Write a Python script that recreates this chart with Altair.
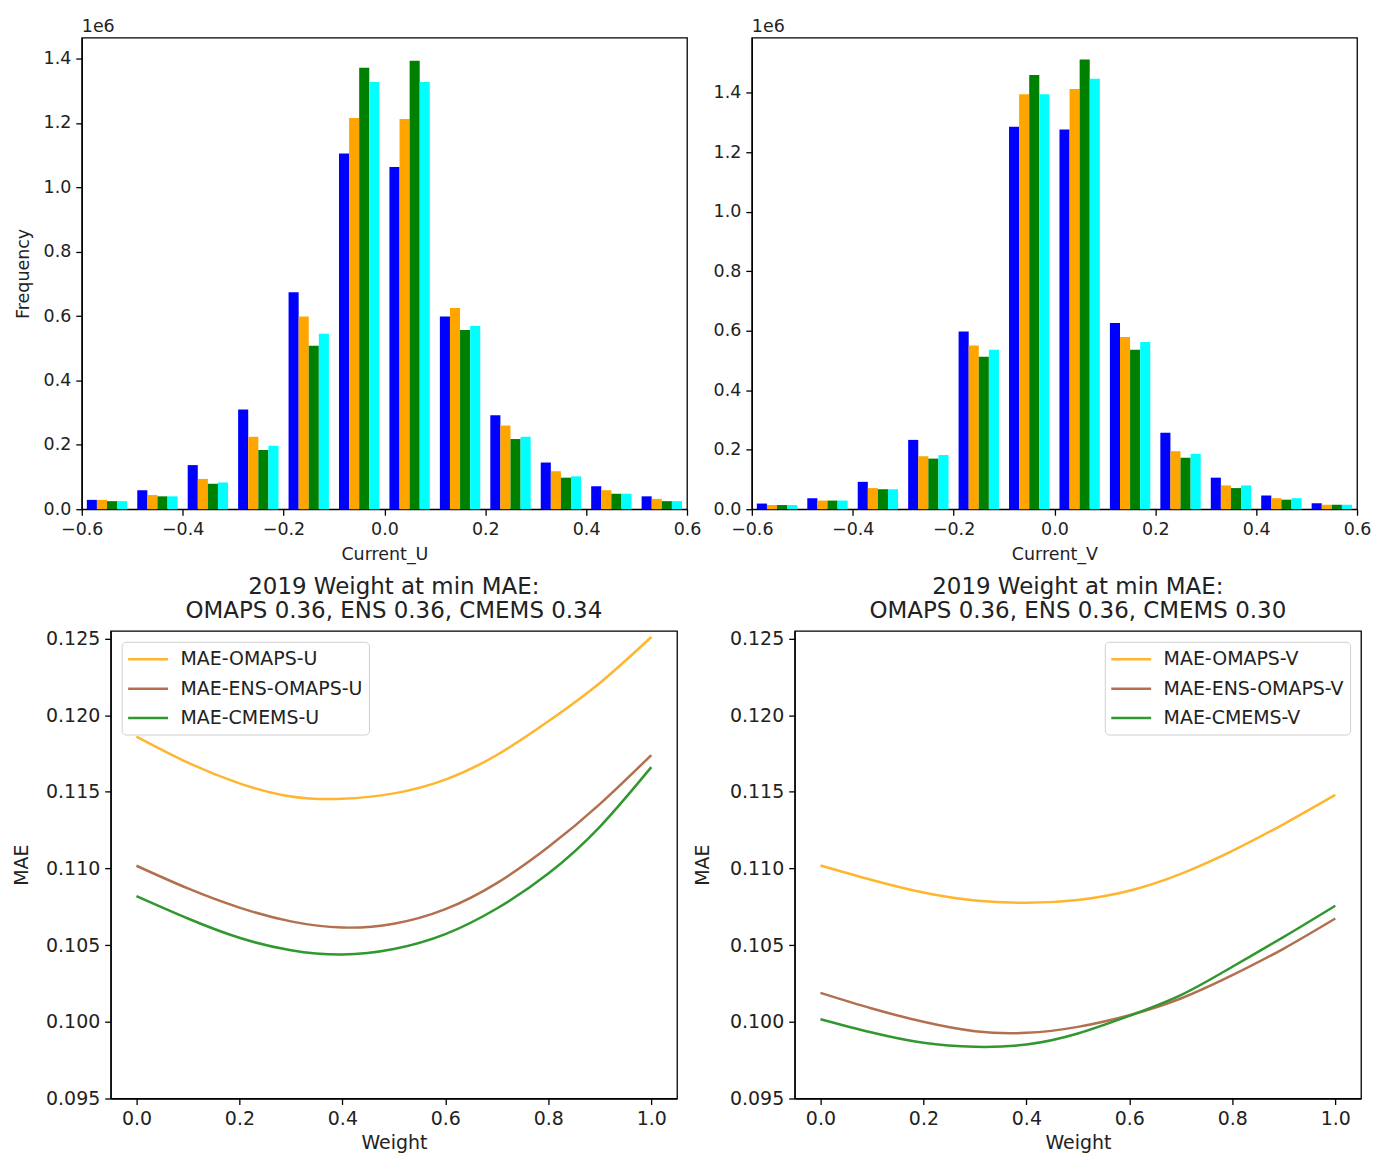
import altair as alt
import pandas as pd

FONT = "DejaVu Sans"

# ---------------- histogram data (counts per bin) ----------------
bin_lefts = [-0.6, -0.5, -0.4, -0.3, -0.2, -0.1, 0.0, 0.1, 0.2, 0.3, 0.4, 0.5]
hist_series = ["OBS", "OMAPS", "CMEMS", "ENS"]
hist_colors = ["#0000ff", "#ffa500", "#008000", "#00ffff"]

u_obs = [29000, 59000, 137000, 310000, 674000, 1105000, 1063000, 599000, 292000, 145000, 71000, 40000]
u_omaps = [29000, 44000, 94000, 225000, 599000, 1215000, 1212000, 625000, 260000, 118000, 59000, 32000]
u_cmems = [25000, 40000, 79000, 184000, 508000, 1371000, 1393000, 557000, 218000, 98000, 48000, 25000]
u_ens = [25000, 40000, 83000, 197000, 545000, 1327000, 1327000, 569000, 225000, 102000, 48000, 25000]

v_obs = [19000, 37000, 92000, 233000, 597000, 1285000, 1276000, 626000, 257000, 106000, 46000, 20000]
v_omaps = [14000, 29000, 71000, 178000, 550000, 1395000, 1412000, 579000, 195000, 80000, 37000, 15000]
v_cmems = [14000, 29000, 67000, 170000, 512000, 1459000, 1511000, 536000, 173000, 71000, 32000, 15000]
v_ens = [14000, 29000, 67000, 182000, 536000, 1395000, 1447000, 562000, 186000, 80000, 37000, 15000]

x_ticks_hist = [-0.6, -0.4, -0.2, 0.0, 0.2, 0.4, 0.6]
y_ticks_hist = [0, 200000, 400000, 600000, 800000, 1000000, 1200000, 1400000]

# ---------------- MAE vs weight data ----------------
weights = [0.0, 0.1, 0.2, 0.3, 0.4, 0.5, 0.6, 0.7, 0.8, 0.9, 1.0]
mae_omaps_u = [0.1186, 0.1169, 0.11555, 0.1147, 0.11455, 0.1149, 0.1158, 0.1174, 0.1196, 0.1221, 0.1251]
mae_ens_u = [0.11018, 0.1087, 0.10745, 0.10655, 0.10615, 0.1064, 0.10735, 0.10905, 0.1114, 0.1142, 0.1174]
mae_cmems_u = [0.1082, 0.10674, 0.10548, 0.10467, 0.10439, 0.10475, 0.10572, 0.10739, 0.10967, 0.11272, 0.11661]
mae_omaps_v = [0.1102, 0.10925, 0.10843, 0.10791, 0.10776, 0.10795, 0.10855, 0.10965, 0.11115, 0.1129, 0.1148]
mae_ens_v = [0.10189, 0.10087, 0.1000, 0.09939, 0.09928, 0.09967, 0.10043, 0.10152, 0.10304, 0.10478, 0.10674]
mae_cmems_v = [0.10017, 0.0993, 0.09863, 0.09837, 0.09852, 0.09924, 0.10039, 0.10174, 0.10359, 0.10554, 0.10757]

names_u = ["MAE-OMAPS-U", "MAE-ENS-OMAPS-U", "MAE-CMEMS-U"]
names_v = ["MAE-OMAPS-V", "MAE-ENS-OMAPS-V", "MAE-CMEMS-V"]
line_colors = ["#ffb52e", "#b3704f", "#2f982f"]

title_u = ["2019 Weight at min MAE:", "OMAPS 0.36, ENS 0.36, CMEMS 0.34"]
title_v = ["2019 Weight at min MAE:", "OMAPS 0.36, ENS 0.36, CMEMS 0.30"]

x_ticks_w = [0.0, 0.2, 0.4, 0.6, 0.8, 1.0]
y_ticks_mae = [0.095, 0.100, 0.105, 0.110, 0.115, 0.120, 0.125]

TOP_FS = 17.5
BOT_FS = 19


def hist_df(lists):
    rows = []
    for k, (name, vals) in enumerate(zip(hist_series, lists)):
        for b, v in zip(bin_lefts, vals):
            rows.append({"bin_left": b, "k": k, "dataset": name, "count": v})
    return pd.DataFrame(rows)


def hist_chart(df, xtitle, ymax, ytitle=None, title_pad=11):
    yaxis_kw = dict(values=y_ticks_hist, labelExpr="format(datum.value/1e6, '.1f')",
                    labelFontSize=TOP_FS, titleFontSize=TOP_FS)
    if ytitle:
        yaxis_kw["title"] = ytitle
        yaxis_kw["titlePadding"] = title_pad
    else:
        yaxis_kw["title"] = ""
    return (
        alt.Chart(df)
        .transform_calculate(
            x0="datum.bin_left + 0.01 + 0.02 * datum.k",
            x1="datum.bin_left + 0.03 + 0.02 * datum.k",
        )
        .mark_bar()
        .encode(
            x=alt.X("x0:Q", scale=alt.Scale(domain=[-0.6, 0.6], nice=False, zero=False),
                    axis=alt.Axis(values=x_ticks_hist, format=".1f", title=xtitle, titlePadding=8,
                                  labelFontSize=TOP_FS, titleFontSize=TOP_FS)),
            x2="x1:Q",
            y=alt.Y("count:Q", scale=alt.Scale(domain=[0, ymax], nice=False),
                    axis=alt.Axis(**yaxis_kw)),
            y2=alt.datum(0),
            color=alt.Color("dataset:N", scale=alt.Scale(domain=hist_series, range=hist_colors), legend=None),
        )
        .properties(
            width=607, height=473,
            title=alt.TitleParams("1e6", anchor="start", frame="group", fontSize=TOP_FS,
                                  fontWeight="normal", font=FONT, color="#222", offset=2),
        )
    )


def mae_df(names, lists):
    rows = []
    for name, vals in zip(names, lists):
        for w, v in zip(weights, vals):
            rows.append({"weight": w, "series": name, "mae": v})
    return pd.DataFrame(rows)


def line_chart(df, names, title, orient, ytitle_pad):
    return (
        alt.Chart(df)
        .mark_line(strokeWidth=2.5, interpolate="natural", clip=True)
        .encode(
            x=alt.X("weight:Q", scale=alt.Scale(domain=[-0.05, 1.05], nice=False, zero=False),
                    axis=alt.Axis(values=x_ticks_w, format=".1f", title="Weight", titlePadding=5,
                                  labelFontSize=BOT_FS, titleFontSize=BOT_FS)),
            y=alt.Y("mae:Q", scale=alt.Scale(domain=[0.095, 0.1255], nice=False, zero=False),
                    axis=alt.Axis(values=y_ticks_mae, format=".3f", title="MAE", titlePadding=ytitle_pad,
                                  labelFontSize=BOT_FS, titleFontSize=BOT_FS)),
            color=alt.Color(
                "series:N",
                scale=alt.Scale(domain=names, range=line_colors),
                sort=names,
                legend=alt.Legend(
                    title=None, orient=orient, offset=11,
                    symbolType="M-2,0H2", symbolSize=400, symbolOffset=9,
                    symbolStrokeWidth=2.5, labelFontSize=BOT_FS, labelFont=FONT, labelColor="#222",
                    labelLimit=400, labelOffset=21, fillColor="rgba(255,255,255,0.85)",
                    strokeColor="#d0d0d0", cornerRadius=4, padding=6, rowPadding=7.5,
                ),
            ),
        )
        .properties(
            width=568, height=469,
            title=alt.TitleParams(title, anchor="middle", frame="group", fontSize=23,
                                  fontWeight="normal", font=FONT, color="#222", lineHeight=24, offset=7),
        )
    )


hist_u = hist_chart(hist_df([u_obs, u_omaps, u_cmems, u_ens]), "Current_U", 1465000, "Frequency", 11)
hist_v = hist_chart(hist_df([v_obs, v_omaps, v_cmems, v_ens]), "Current_V", 1585000)

line_u = line_chart(mae_df(names_u, [mae_omaps_u, mae_ens_u, mae_cmems_u]), names_u, title_u, "top-left", 14)
line_v = line_chart(mae_df(names_v, [mae_omaps_v, mae_ens_v, mae_cmems_v]), names_v, title_v, "top-right", 17)

# invisible 1px spacer that lets the lower row start further left than the upper one
spacer = (
    alt.Chart(pd.DataFrame({"s": [0]}))
    .mark_point(opacity=0)
    .properties(width=1, height=1, view=alt.ViewBackground(strokeOpacity=0))
)

top = alt.hconcat(hist_u, hist_v, spacing=10).resolve_scale(color="independent")
bottom_inner = (
    alt.hconcat(line_u, line_v, spacing=14)
    .resolve_scale(color="independent")
    .resolve_legend(color="independent")
)
bottom = alt.hconcat(spacer, bottom_inner, spacing=-75).resolve_scale(color="independent")

chart = (
    alt.vconcat(top, bottom, spacing=11)
    .resolve_scale(color="independent")
    .resolve_legend(color="independent")
    .properties(background="white", padding={"left": 3, "top": 7, "right": 0, "bottom": 0})
    .configure_axis(
        labelFont=FONT, labelColor="#222", labelFlush=False,
        titleFont=FONT, titleFontWeight="normal", titleColor="#222",
        domainColor="black", domainWidth=1.3, tickColor="black", tickWidth=1.3,
        tickSize=6, labelPadding=5, grid=False,
    )
    .configure_view(stroke="black", strokeWidth=1.3)
)

chart.save("out.html", embed_options={"renderer": "svg", "actions": False})
